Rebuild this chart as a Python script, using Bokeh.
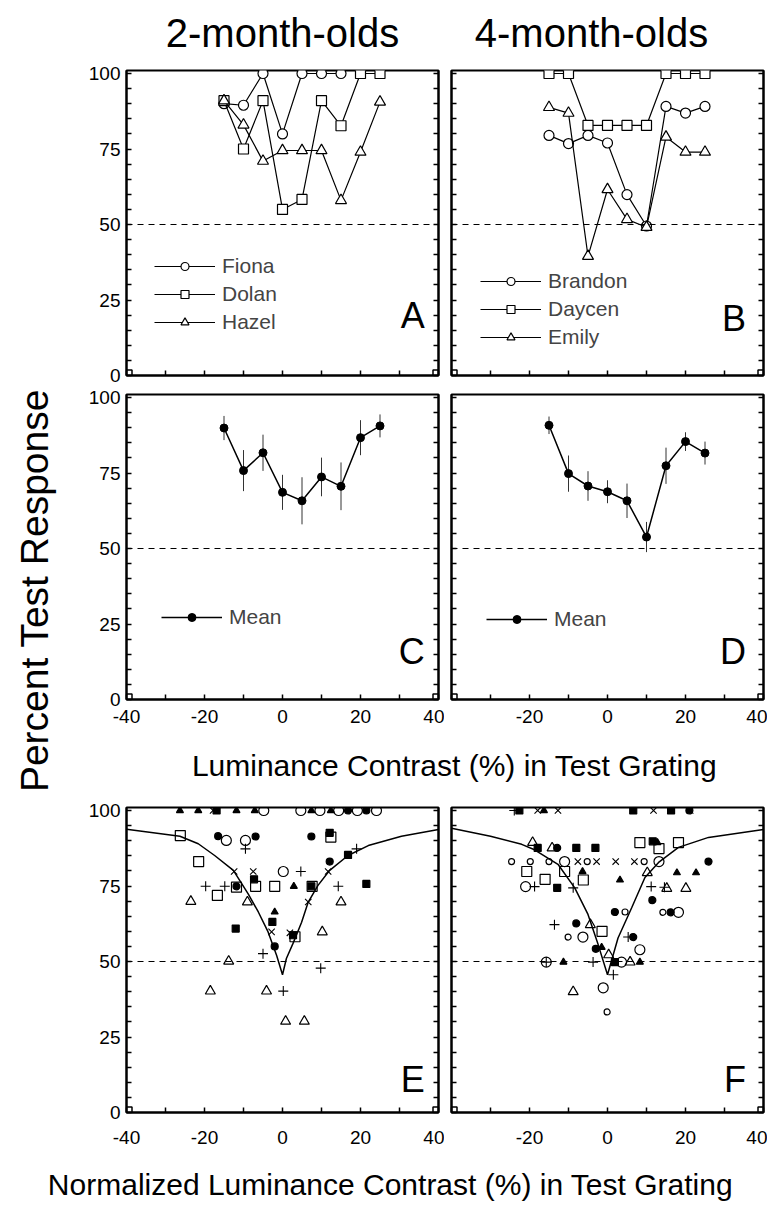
import numpy as np
from bokeh.plotting import figure
from bokeh.layouts import row, column
from bokeh.models import Range1d, FixedTicker, LinearAxis, Span, Label, Legend, LegendItem
from bokeh.embed import file_html
from bokeh.resources import INLINE

FONT = "Liberation Sans"

# ---------------- data ----------------
X_RANGE = (-40, 40)
Y_RANGE = (0, 101)
X_LABELLED = [-40, -20, 0, 20, 40]
X_ALL_TICKS = [-40, -30, -20, -10, 0, 10, 20, 30, 40]
Y_LABELLED = [0, 25, 50, 75, 100]
Y_ALL_TICKS = list(range(0, 101, 5))
CHANCE = 50

contrast = [-15, -10, -5, 0, 5, 10, 15, 20, 25]

# Panel A (2-month-olds, individual infants)
fiona_x = [-15, -10, -5, 0, 5, 10, 15]
fiona_y = [90, 89.5, 100, 80, 100, 100, 100]
dolan_y = [91, 75, 91, 55, 58.3, 91, 82.7, 100, 100]
hazel_y = [91, 83, 71, 74.5, 74.5, 74.5, 58, 74, 90.6]

# Panel B (4-month-olds, individual infants)
brandon_y = [79.5, 76.8, 79.5, 77, 59.9, 49.5, 89.1, 86.9, 89.1]
daycen_y = [100, 100, 82.8, 82.8, 82.8, 82.8, 100, 100, 100]
emily_y = [88.8, 86.9, 39.5, 61.6, 51.7, 49.1, 79, 74, 74]

# Panels C, D (means with error bars)
mean2_y = [89.9, 75.8, 81.7, 68.6, 65.8, 73.7, 70.6, 86.7, 90.6]
mean2_err = [4, 6.8, 6, 5.8, 7.8, 6.4, 7.9, 5.8, 3.8]
mean4_y = [90.8, 74.8, 70.7, 68.8, 65.8, 53.8, 77.4, 85.4, 81.6]
mean4_err = [2.9, 6, 4.9, 3.8, 5.7, 5, 6, 3.1, 3.8]

# Panel E (normalized contrast, 2-month-olds)
E_open_circle_x = [-4.8, 4.7, 9.6, 14.4, 19.2, 24.1, -14.4, -9.5, 0.2]
E_open_circle_y = [100, 100, 100, 100, 100, 100, 90.1, 90.1, 79.8]
E_filled_circle_x = [16.8, 21.5, -16.5, -6.9, -11.8, -2.0, 7.4, 12.1]
E_filled_circle_y = [100, 100, 91.5, 91.4, 74.9, 55.0, 91.4, 83.1]
E_filled_tri_x = [-26.3, -21.6, -11.8, -7.1, 7.4, 12.4, -2.0, 2.9]
E_filled_tri_y = [100, 100, 100, 100, 100, 100, 66.4, 74.9]
E_filled_square_x = [-16.9, -7.3, -12.0, -2.6, 7.4, 2.7, 12.1, 16.8, 21.5]
E_filled_square_y = [100, 77.2, 60.9, 63.1, 74.9, 58.7, 92.6, 85.3, 75.7]
E_open_square_x = [-26.2, -21.5, -11.8, -16.7, -6.9, -2.0, 7.6, 3.2, 12.4]
E_open_square_y = [91.7, 83.1, 74.6, 71.9, 74.9, 74.9, 74.9, 58.2, 91.2]
E_open_tri_x = [-23.5, -9.0, -13.8, -18.5, -4.1, 0.8, 5.6, 10.2, 15.0]
E_open_tri_y = [69.9, 69.7, 50.1, 40.2, 40.2, 30.2, 30.2, 59.8, 69.7]
E_plus_x = [-9.5, -19.7, -14.8, -5.0, 0.2, 4.7, 9.8, 19.0, 14.3]
E_plus_y = [87.3, 74.9, 74.9, 52.6, 40.2, 79.8, 47.8, 87.3, 74.9]
E_x_x = [-17.8, -12.4, -7.5, -2.8, 1.9, 6.6, 11.7]
E_x_y = [100, 79.8, 79.8, 59.8, 59.5, 69.7, 79.8]
E_curve_x = [-40, -26.3, -21.6, -17.4, -12.6, -8.8, -6.2, -3.7, -1.5, 0,
             1, 2.7, 4.9, 6.6, 9.1, 12.1, 16.8, 22, 30.5, 40]
E_curve_y = [93.8, 91.5, 89, 85.1, 80.2, 72.4, 66.4, 59.8, 52, 45.6,
             51, 56, 63, 69.7, 75.2, 80.2, 85.1, 88.4, 91.5, 93.7]

# Panel F (normalized contrast, 4-month-olds)
F_open_circle_x = [-11.0, 13.2, -21.0, 18.2, -6.3, 8.3, -15.7, 3.6, -1.1]
F_open_circle_y = [83.1, 83.1, 74.8, 66.3, 58.1, 53.9, 49.8, 49.8, 41.3]
F_small_circle_x = [-24.6, -19.8, -15.0, -5.2, 9.4, 14.2, 4.5, -10.1, -0.1]
F_small_circle_y = [83.1, 83.1, 83.1, 83.1, 83.1, 66.3, 66.4, 58.1, 33.3]
F_filled_circle_x = [21.0, -12.9, 25.9, 11.5, 16.2, -8.0, 6.6, -3.0, 1.9]
F_filled_circle_y = [100, 87.6, 83.1, 70.3, 66.3, 62.6, 58.1, 54.2, 66.4]
F_filled_square_x = [-22.6, 6.6, 16.3, -17.9, -8.0, -3.1, 11.6, -12.9, 1.9]
F_filled_square_y = [100, 100, 100, 87.6, 87.6, 87.6, 89.8, 74.4, 49.8]
F_open_square_x = [8.3, 13.2, 18.2, -20.7, -11.0, -16.0, -6.2, -1.4]
F_open_square_y = [89.4, 87.4, 89.4, 79.8, 79.8, 77.2, 77.0, 60.0]
F_filled_tri_x = [-16.3, 12.8, -6.4, 17.8, 22.7, 3.2, -1.5, -11.3, 8.3]
F_filled_tri_y = [100, 89.4, 79.8, 79.4, 79.4, 77.0, 54.7, 49.8, 49.8]
F_open_tri_x = [-19.2, -14.2, 10.2, 15.2, 20.1, -4.4, 0.3, 5.8, -8.8]
F_open_tri_y = [89.4, 87.6, 79.4, 74.2, 74.2, 62.2, 52.2, 49.8, 40.0]
F_plus_x = [-23.9, -18.7, -8.8, 11.2, 14.6, -13.6, 5.3, -3.7, -15.7, 1.5]
F_plus_y = [100, 74.8, 74.4, 74.8, 74.6, 62.2, 58.1, 49.8, 49.8, 45.6]
F_x_x = [-17.9, -12.7, 11.8, 16.3, 21.2, -7.6, -2.8, 2.1, 6.9]
F_x_y = [100, 100, 100, 100, 100, 83.1, 83.1, 83.1, 83.1]
F_curve_x = [-40, -30, -22, -18.7, -12.7, -8.4, -5.0, -2.4, 0,
             2.7, 6.2, 9.6, 13.1, 18.2, 25.9, 40]
F_curve_y = [94.1, 91.5, 88.8, 87.0, 82.2, 74.4, 65.6, 55.6, 45.6,
             57.8, 67.8, 77.8, 82.8, 87.8, 91.1, 93.7]

TITLES = ["2-month-olds", "4-month-olds"]
Y_TITLE = "Percent Test Response"
X_TITLE_1 = "Luminance Contrast (%) in Test Grating"
X_TITLE_2 = "Normalized Luminance Contrast (%) in Test Grating"

# ---------------- helpers ----------------
FRAME_W, FRAME_H = 312, 305


def style_axis(ax, labelled, all_ticks, standoff=6, hyphen=False):
    """Ticks point inward; labelled positions are majors, the rest minors."""
    majors = [t for t in all_ticks if t in labelled]
    minors = [t for t in all_ticks if t not in majors]
    ax.ticker = FixedTicker(ticks=majors, minor_ticks=minors)
    ax.axis_line_width = 2
    ax.axis_line_color = "black"
    ax.major_tick_in = 5
    ax.major_tick_out = 0
    ax.minor_tick_in = 5
    ax.minor_tick_out = 0
    ax.major_tick_line_width = 1.5
    ax.minor_tick_line_width = 1.5
    ax.major_tick_line_color = "black"
    ax.minor_tick_line_color = "black"
    ax.major_label_text_font = FONT
    ax.major_label_text_font_size = "19px"
    ax.major_label_text_color = "black"
    ax.major_label_standoff = standoff
    if hyphen:
        ax.major_label_overrides = {t: "-%d" % abs(t) for t in majors if t < 0}


def make_panel(col, rowi, letter, letter_y):
    mb_left = 48 if col == 0 else 7
    mb_right = 6 if col == 0 else 4
    mb_top = {0: 12, 1: 8, 2: 17}[rowi]
    mb_bottom = {0: 11, 1: 40, 2: 40}[rowi]
    p = figure(frame_width=FRAME_W, frame_height=FRAME_H,
               x_range=Range1d(*X_RANGE), y_range=Range1d(*Y_RANGE),
               output_backend="svg", toolbar_location=None,
               min_border_left=mb_left, min_border_right=mb_right,
               min_border_top=mb_top, min_border_bottom=mb_bottom,
               background_fill_color="white", border_fill_color="white")
    p.grid.visible = False
    p.outline_line_color = "black"
    p.outline_line_width = 2
    # x axis: labels only in rows 2 and 3; right-hand panels omit "-40"
    if rowi == 0:
        xl = []
    elif col == 0:
        xl = X_LABELLED
    else:
        xl = X_LABELLED[1:]
    style_axis(p.xaxis[0], xl, X_ALL_TICKS, standoff=10 if rowi == 1 else 18, hyphen=True)
    style_axis(p.yaxis[0], Y_LABELLED if col == 0 else [], Y_ALL_TICKS, standoff=6)
    ra = LinearAxis()
    style_axis(ra, [], Y_ALL_TICKS)
    p.add_layout(ra, "right")
    p.add_layout(Span(location=CHANCE, dimension="width", line_color="black",
                      line_dash="6 5", line_width=1))
    # small corner boxes at the bottom corners
    p.scatter(x=list(X_RANGE), y=[Y_RANGE[0]] * 2, marker="square", size=11,
              fill_color=None, line_color="black", line_width=1.5)
    p.add_layout(Label(x=36.5 if col == 0 else 35.5, y=letter_y, text=letter,
                       text_align="right", text_baseline="alphabetic",
                       text_font=FONT, text_font_size="36px", text_color="black"))
    return p


def text_fig(w, h):
    f = figure(width=w, height=h, x_range=Range1d(0, w), y_range=Range1d(0, h),
               output_backend="svg", toolbar_location=None, min_border=0,
               x_axis_location=None, y_axis_location=None,
               background_fill_color="white", border_fill_color="white")
    f.grid.visible = False
    f.outline_line_color = None
    return f


def legend_for(p, items, loc):
    lg = Legend(items=items, location=loc, glyph_width=61, glyph_height=20,
                label_height=20, label_text_font=FONT, label_text_font_size="21px",
                label_standoff=7, spacing=4, padding=0, margin=0,
                border_line_alpha=0, background_fill_alpha=0)
    p.add_layout(lg)


def subject_series(p, xs, ys, marker, size):
    lr = p.line(xs, ys, line_color="black", line_width=1.2)
    sr = p.scatter(xs, ys, marker=marker, size=size, fill_color="white",
                   line_color="black", line_width=1.2)
    return lr, sr


# ---------------- panels A, B ----------------
pA = make_panel(0, 0, "A", 20)
fl, fs = subject_series(pA, fiona_x, fiona_y, "circle", 10)
dl, ds = subject_series(pA, contrast, dolan_y, "square", 10)
hl, hs = subject_series(pA, contrast, hazel_y, "triangle", 11)
legend_for(pA, [LegendItem(label="Fiona", renderers=[fl, fs]),
                LegendItem(label="Dolan", renderers=[dl, ds]),
                LegendItem(label="Hazel", renderers=[hl, hs])], (28, 41))

pB = make_panel(1, 0, "B", 19)
bl, bs = subject_series(pB, contrast, brandon_y, "circle", 10)
yl, ys_ = subject_series(pB, contrast, daycen_y, "square", 10)
el, es = subject_series(pB, contrast, emily_y, "triangle", 11)
legend_for(pB, [LegendItem(label="Brandon", renderers=[bl, bs]),
                LegendItem(label="Daycen", renderers=[yl, ys_]),
                LegendItem(label="Emily", renderers=[el, es])], (29, 26))


# ---------------- panels C, D ----------------
def mean_panel(col, letter, ys, errs, loc):
    p = make_panel(col, 1, letter, 16)
    lo = list(np.array(ys) - np.array(errs))
    hi = list(np.array(ys) + np.array(errs))
    p.segment(x0=contrast, y0=lo, x1=contrast, y1=hi, line_color="#333333", line_width=1)
    lr = p.line(contrast, ys, line_color="black", line_width=1.5)
    sr = p.scatter(contrast, ys, marker="circle", size=8, fill_color="black", line_color="black")
    legend_for(p, [LegendItem(label="Mean", renderers=[lr, sr])], loc)
    return p


pC = mean_panel(0, "C", mean2_y, mean2_err, (35, 70))
pD = mean_panel(1, "D", mean4_y, mean4_err, (35, 68))


# ---------------- panels E, F ----------------
def scatter_set(p, xs, ys, marker, size, filled, lw=1.2):
    p.scatter(xs, ys, marker=marker, size=size,
              fill_color="black" if filled else "white",
              fill_alpha=1.0 if filled else 0.0,
              line_color="black", line_width=lw)


pE = make_panel(0, 2, "E", 11)
pE.line(E_curve_x, E_curve_y, line_color="black", line_width=1.5)
scatter_set(pE, E_open_square_x, E_open_square_y, "square", 10, False)
scatter_set(pE, E_open_tri_x, E_open_tri_y, "triangle", 10, False)
scatter_set(pE, E_open_circle_x, E_open_circle_y, "circle", 10, False)
scatter_set(pE, E_filled_circle_x, E_filled_circle_y, "circle", 7, True)
scatter_set(pE, E_filled_square_x, E_filled_square_y, "square", 7, True)
scatter_set(pE, E_filled_tri_x, E_filled_tri_y, "triangle", 7, True)
scatter_set(pE, E_plus_x, E_plus_y, "cross", 10, False, 1.1)
scatter_set(pE, E_x_x, E_x_y, "x", 9, False, 1.1)

pF = make_panel(1, 2, "F", 11)
pF.line(F_curve_x, F_curve_y, line_color="black", line_width=1.5)
scatter_set(pF, F_open_square_x, F_open_square_y, "square", 10, False)
scatter_set(pF, F_open_tri_x, F_open_tri_y, "triangle", 10, False)
scatter_set(pF, F_open_circle_x, F_open_circle_y, "circle", 10, False)
scatter_set(pF, F_small_circle_x, F_small_circle_y, "circle", 6, False)
scatter_set(pF, F_filled_circle_x, F_filled_circle_y, "circle", 7, True)
scatter_set(pF, F_filled_square_x, F_filled_square_y, "square", 7, True)
scatter_set(pF, F_filled_tri_x, F_filled_tri_y, "triangle", 7, True)
scatter_set(pF, F_plus_x, F_plus_y, "cross", 10, False, 1.1)
scatter_set(pF, F_x_x, F_x_y, "x", 9, False, 1.1)

# ---------------- text figures ----------------
tfig = text_fig(689, 58)
for txt, xc in zip(TITLES, [204, 513]):
    tfig.add_layout(Label(x=xc, y=26, text=txt, text_align="center",
                          text_baseline="middle", text_font=FONT,
                          text_font_size="40px", text_color="black"))

lfig = text_fig(78, 1152)
lfig.add_layout(Label(x=34, y=562, text=Y_TITLE, angle=np.pi / 2, text_align="center",
                      text_baseline="middle", text_font=FONT, text_font_size="39px",
                      text_color="black"))

xl1 = text_fig(689, 51)
xl1.add_layout(Label(x=376, y=25, text=X_TITLE_1, text_align="center",
                     text_baseline="middle", text_font=FONT, text_font_size="30px",
                     text_color="black"))

xl2 = text_fig(767, 54)
xl2.add_layout(Label(x=390, y=22, text=X_TITLE_2, text_align="center",
                     text_baseline="middle", text_font=FONT, text_font_size="30px",
                     text_color="black"))

right = column(tfig, row(pA, pB), row(pC, pD), xl1, row(pE, pF))
root = column(row(lfig, right), xl2)

open("out.html", "w").write(file_html(root, INLINE))
